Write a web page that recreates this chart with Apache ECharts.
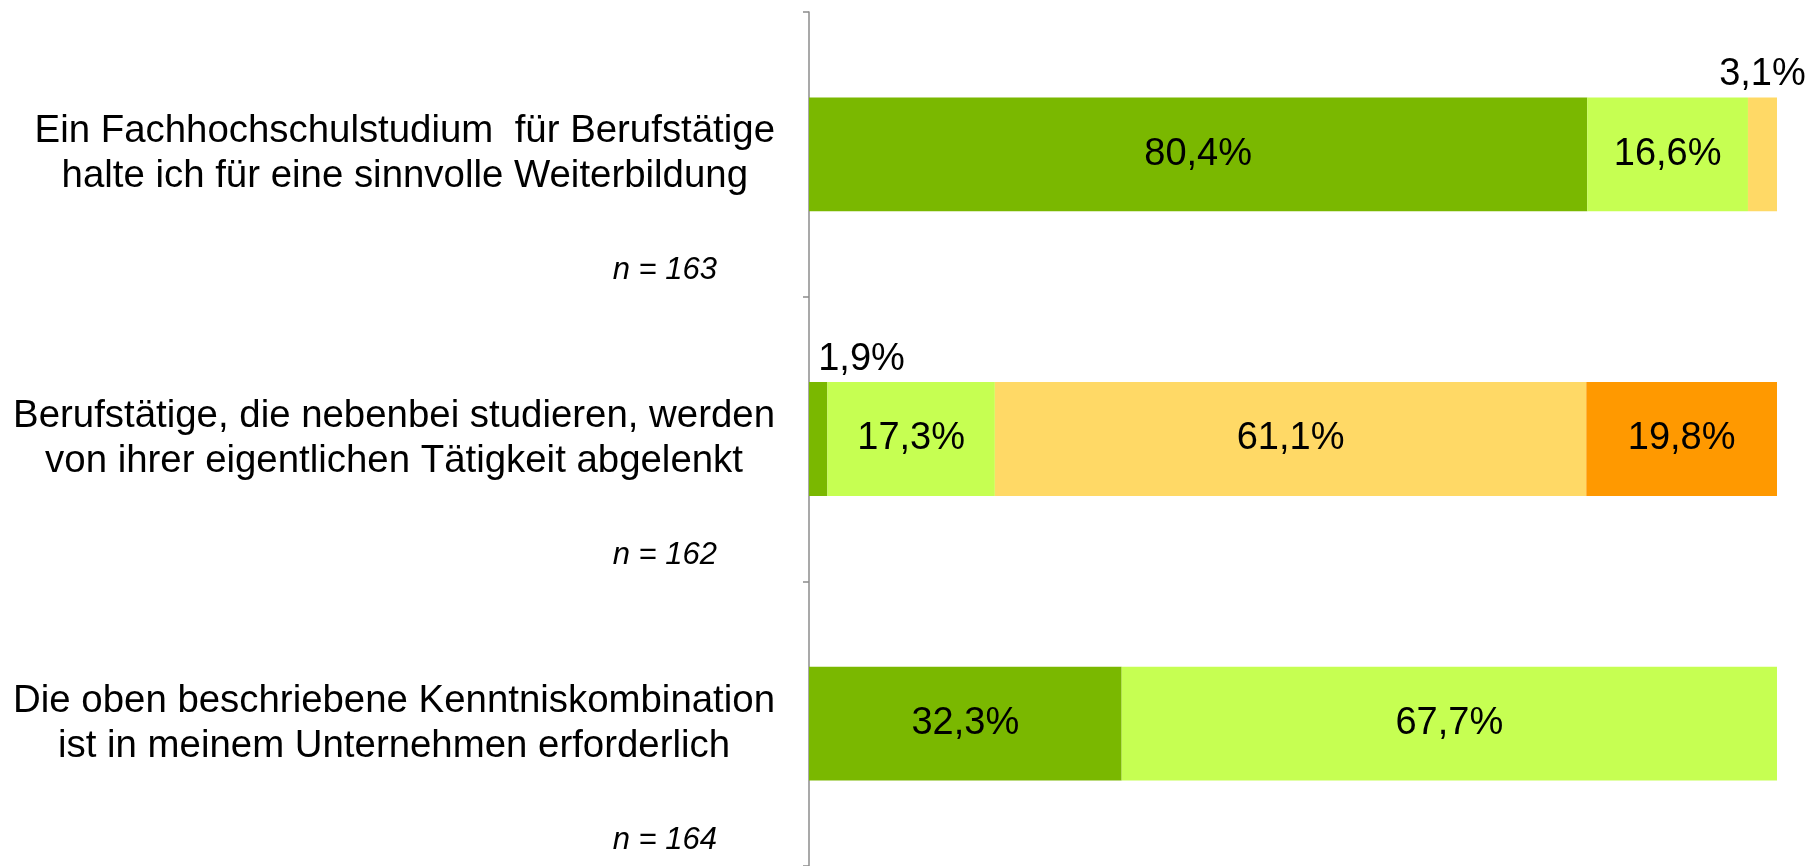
<!DOCTYPE html>
<html>
<head>
<meta charset="utf-8">
<style>
  html, body { margin: 0; padding: 0; background: #fff; }
  #chart { width: 1820px; height: 866px; }
</style>
<script src="https://cdn.jsdelivr.net/npm/echarts@6/dist/echarts.min.js"></script>
</head>
<body>
<div id="chart"></div>
<script>
// Aussagen (zwei Zeilen je Aussage)
const statements = [
  ['Ein Fachhochschulstudium  für Berufstätige', 'halte ich für eine sinnvolle Weiterbildung'],
  ['Berufstätige, die nebenbei studieren, werden', 'von ihrer eigentlichen Tätigkeit abgelenkt'],
  ['Die oben beschriebene Kenntniskombination', 'ist in meinem Unternehmen erforderlich']
];
const sampleSizes = ['n = 163', 'n = 162', 'n = 164'];

const seriesNames = ['trifft voll zu', 'trifft eher zu', 'trifft eher nicht zu', 'trifft gar nicht zu'];
const trifftVoll = [80.4, 1.9, 32.3];
const trifftEher = [16.6, 17.3, 67.7];
const trifftEherNicht = [3.1, 61.1, null];
const trifftNicht = [null, 19.8, null];

const colors = ['#7ab800', '#c6ff52', '#ffd966', '#ff9900'];
const font = '"Liberation Sans", Arial, sans-serif';

function pct(v) {
  return v.toFixed(1).replace('.', ',') + '%';
}

// kleine Segmente bekommen das Label über dem Balken
function buildData(values, seriesIndex) {
  return values.map(function (v) {
    if (v !== null && v < 5) {
      return {
        value: v,
        label: { position: 'top', distance: 4, align: seriesIndex === 0 ? 'left' : 'center' }
      };
    }
    return v;
  });
}

const allValues = [trifftVoll, trifftEher, trifftEherNicht, trifftNicht];

const series = allValues.map(function (vals, i) {
  return {
    name: seriesNames[i],
    type: 'bar',
    stack: 'total',
    barWidth: '40%',
    itemStyle: { color: colors[i] },
    label: {
      show: true,
      position: 'inside',
      color: '#000',
      fontSize: 38,
      fontFamily: font,
      formatter: function (p) { return pct(p.value); }
    },
    data: buildData(vals, i)
  };
});

const option = {
  animation: false,
  backgroundColor: '#fff',
  grid: { left: 809, right: 43, top: 12, bottom: -4 },
  xAxis: {
    type: 'value',
    min: 0,
    max: 100,
    show: false
  },
  yAxis: {
    type: 'category',
    inverse: true,
    data: statements.map(function (s) { return s.join('\n'); }),
    axisLine: { show: true, lineStyle: { color: '#8c8c8c', width: 1.5 } },
    axisTick: { show: true, length: 6, lineStyle: { color: '#8c8c8c', width: 1.5 } },
    axisLabel: {
      margin: 34,
      align: 'right',
      formatter: function (value, idx) {
        const lines = value.split('\n');
        return '{s|}\n{t|' + lines[0] + '}\n{t|' + lines[1] + '}\n{g|}\n{n|' + sampleSizes[idx] + '}';
      },
      rich: {
        s: { height: 90 },
        g: { height: 53 },
        t: { fontSize: 38.4, lineHeight: 45, fontFamily: font, color: '#000', align: 'center' },
        n: { fontSize: 31, lineHeight: 37, fontFamily: font, fontStyle: 'italic', color: '#000', align: 'right', padding: [0, 58, 0, 0] }
      }
    }
  },
  series: series
};

const myChart = echarts.init(document.getElementById('chart'));
myChart.setOption(option);
window.addEventListener('resize', function () {
  myChart.resize();
});
</script>
</body>
</html>
